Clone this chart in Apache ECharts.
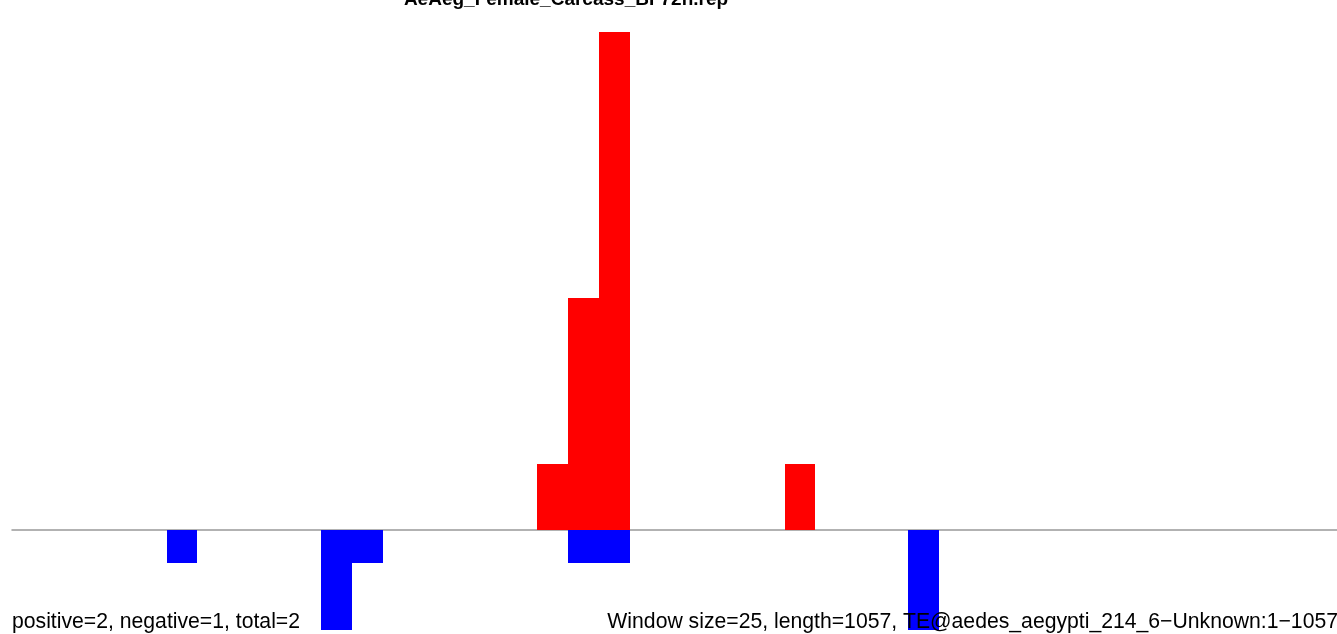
<!DOCTYPE html>
<html>
<head>
<meta charset="utf-8">
<script src="https://cdn.jsdelivr.net/npm/echarts@6/dist/echarts.min.js"></script>
<style>html,body{margin:0;padding:0;background:#fff;}#c{width:1337px;height:634px;}</style>
</head>
<body>
<div id="c"></div>
<script>
// 43 windows of 25 bp across a 1057 bp element
const windowSize = 25;
const windowStarts = Array.from({length: 43}, (_, i) => i * windowSize);
const positiveCounts = [0,0,0,0,0,0,0,0,0,0,0,0,0,0,0,0,0,2,7,15,0,0,0,0,0,2,0,0,0,0,0,0,0,0,0,0,0,0,0,0,0,0,0];
const negativeCounts = [0,0,0,0,0,-1,0,0,0,0,-3,-1,0,0,0,0,0,0,-1,-1,0,0,0,0,0,0,0,0,0,-3,0,0,0,0,0,0,0,0,0,0,0,0,0];
const titleText = 'AeAeg_Female_Carcass_BF72h.rep';
const leftNote = 'positive=2, negative=1, total=2';
const rightNote = 'Window size=25, length=1057, TE@aedes_aegypti_214_6\u2212Unknown:1\u22121057';

function toRects(vals) {
  return vals.map((v, i) => [windowStarts[i], windowStarts[i] + windowSize, v]).filter(d => d[2] !== 0);
}
function renderRect(params, api) {
  const p0 = api.coord([api.value(0), api.value(2)]);
  const p1 = api.coord([api.value(1), 0]);
  const x0 = Math.round(p0[0]), x1 = Math.round(p1[0]);
  const y0 = Math.round(Math.min(p0[1], p1[1])), y1 = Math.round(Math.max(p0[1], p1[1]));
  return {
    type: 'rect',
    shape: {x: x0, y: y0, width: x1 - x0, height: y1 - y0},
    style: {fill: api.visual('color')}
  };
}

const chart = echarts.init(document.getElementById('c'), null, {renderer: 'canvas'});
chart.setOption({
  animation: false,
  backgroundColor: '#ffffff',
  grid: {left: 12, top: 32, right: 0, height: 597.6, containLabel: false},
  xAxis: {
    type: 'value', min: 0, max: 1072,
    axisLine: {show: true, onZero: true, lineStyle: {color: '#999999', width: 1.5}},
    axisTick: {show: false},
    axisLabel: {show: false},
    splitLine: {show: false}
  },
  yAxis: {
    type: 'value', min: -3, max: 15,
    show: false,
    splitLine: {show: false}
  },
  series: [
    {type: 'custom', data: toRects(positiveCounts), renderItem: renderRect,
     encode: {x: [0, 1], y: 2}, itemStyle: {color: '#ff0000'}, z: 2},
    {type: 'custom', data: toRects(negativeCounts), renderItem: renderRect,
     encode: {x: [0, 1], y: 2}, itemStyle: {color: '#0000ff'}, z: 3}
  ],
  graphic: [
    {type: 'text', style: {text: titleText, x: 566, y: 9, textAlign: 'center', textVerticalAlign: 'bottom',
      font: 'bold 19px "Liberation Sans", Arial, sans-serif', fill: '#000'}, z: 10},
    {type: 'text', style: {text: leftNote, x: 12, y: 633, textAlign: 'left', textVerticalAlign: 'bottom',
      font: '21.2px "Liberation Sans", Arial, sans-serif', fill: '#000'}, z: 10},
    {type: 'text', style: {text: rightNote, x: 1338, y: 633, textAlign: 'right', textVerticalAlign: 'bottom',
      font: '21.2px "Liberation Sans", Arial, sans-serif', fill: '#000'}, z: 10}
  ]
});
</script>
</body>
</html>
